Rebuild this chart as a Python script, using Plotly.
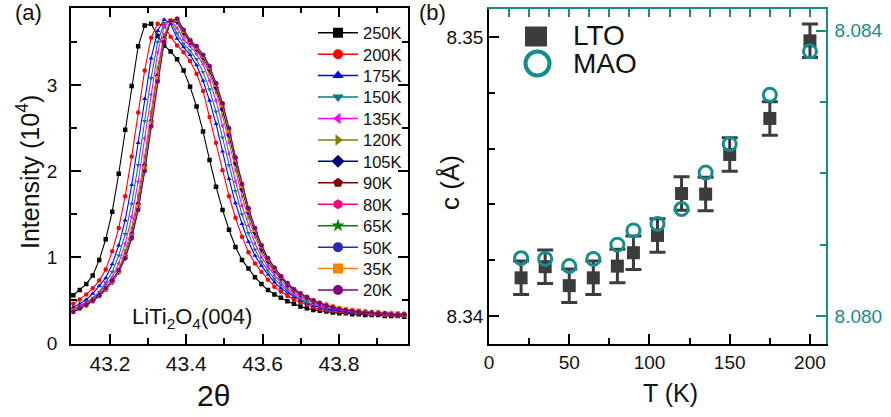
import plotly.graph_objects as go

# ---------------- panel (a): (004) reflection at different temperatures ----------------
two_theta = [43.104, 43.121, 43.138, 43.155, 43.172, 43.189, 43.206, 43.223, 43.240, 43.257,
             43.274, 43.291, 43.308, 43.325, 43.342, 43.359, 43.376, 43.393, 43.410, 43.427,
             43.444, 43.461, 43.478, 43.495, 43.512, 43.529, 43.546, 43.563, 43.580, 43.597,
             43.614, 43.631, 43.648, 43.665, 43.682, 43.699, 43.716, 43.733, 43.750, 43.767,
             43.784, 43.801, 43.818, 43.835, 43.852, 43.869, 43.886, 43.903, 43.920, 43.937,
             43.954, 43.971]

I_250K = [0.56, 0.62, 0.69, 0.79, 0.97, 1.21, 1.53, 1.97, 2.48, 2.99, 3.45, 3.69, 3.71, 3.57, 3.46,
          3.39, 3.30, 3.17, 2.98, 2.75, 2.46, 2.13, 1.82, 1.55, 1.32, 1.12, 0.97, 0.87, 0.77, 0.69,
          0.62, 0.57, 0.53, 0.49, 0.46, 0.43, 0.41, 0.39, 0.38, 0.37, 0.36, 0.35, 0.35, 0.34, 0.34,
          0.33, 0.33, 0.33, 0.32, 0.32, 0.32, 0.31]
I_200K = [0.46, 0.51, 0.57, 0.64, 0.73, 0.86, 1.07, 1.34, 1.71, 2.17, 2.68, 3.17, 3.55, 3.71, 3.69,
          3.56, 3.46, 3.38, 3.28, 3.13, 2.93, 2.63, 2.33, 2.01, 1.71, 1.46, 1.24, 1.06, 0.93, 0.83,
          0.74, 0.66, 0.60, 0.55, 0.51, 0.48, 0.45, 0.42, 0.40, 0.39, 0.38, 0.37, 0.36, 0.36, 0.35,
          0.35, 0.34, 0.34, 0.33, 0.33, 0.32, 0.32]
I_175K = [0.42, 0.46, 0.51, 0.58, 0.67, 0.76, 0.92, 1.14, 1.43, 1.84, 2.33, 2.84, 3.31, 3.63, 3.76,
          3.71, 3.54, 3.44, 3.35, 3.23, 3.05, 2.82, 2.55, 2.23, 1.91, 1.63, 1.39, 1.18, 1.02, 0.90,
          0.80, 0.71, 0.64, 0.59, 0.54, 0.50, 0.47, 0.44, 0.42, 0.40, 0.39, 0.38, 0.37, 0.36, 0.36,
          0.35, 0.35, 0.34, 0.34, 0.33, 0.33, 0.33]
I_150K = [0.40, 0.44, 0.48, 0.53, 0.60, 0.71, 0.83, 1.02, 1.27, 1.62, 2.07, 2.58, 3.08, 3.50, 3.72,
          3.74, 3.60, 3.48, 3.40, 3.30, 3.15, 2.95, 2.69, 2.39, 2.07, 1.77, 1.50, 1.28, 1.09, 0.95,
          0.85, 0.75, 0.68, 0.61, 0.56, 0.52, 0.48, 0.45, 0.43, 0.41, 0.40, 0.39, 0.38, 0.37, 0.36,
          0.36, 0.35, 0.35, 0.34, 0.34, 0.33, 0.33]
I_135K = [0.39, 0.43, 0.47, 0.52, 0.58, 0.68, 0.77, 0.93, 1.16, 1.47, 1.88, 2.38, 2.89, 3.38, 3.68,
          3.75, 3.66, 3.53, 3.45, 3.36, 3.24, 3.05, 2.82, 2.53, 2.20, 1.88, 1.60, 1.37, 1.16, 1.00,
          0.89, 0.79, 0.71, 0.63, 0.58, 0.54, 0.50, 0.47, 0.44, 0.42, 0.41, 0.40, 0.39, 0.38, 0.37,
          0.36, 0.36, 0.35, 0.35, 0.34, 0.34, 0.34]
I_120K = [0.38, 0.42, 0.46, 0.51, 0.56, 0.65, 0.73, 0.86, 1.07, 1.34, 1.71, 2.17, 2.68, 3.20, 3.58,
          3.74, 3.72, 3.58, 3.48, 3.40, 3.29, 3.13, 2.92, 2.65, 2.34, 2.01, 1.71, 1.46, 1.24, 1.06,
          0.93, 0.83, 0.74, 0.66, 0.60, 0.55, 0.51, 0.48, 0.45, 0.43, 0.41, 0.40, 0.39, 0.38, 0.37,
          0.37, 0.36, 0.36, 0.35, 0.35, 0.34, 0.34]
I_105K = [0.37, 0.41, 0.45, 0.50, 0.56, 0.63, 0.71, 0.83, 1.02, 1.27, 1.62, 2.07, 2.58, 3.11, 3.54,
          3.74, 3.74, 3.61, 3.50, 3.42, 3.32, 3.18, 2.97, 2.72, 2.42, 2.09, 1.79, 1.52, 1.29, 1.10,
          0.96, 0.85, 0.76, 0.68, 0.62, 0.57, 0.53, 0.49, 0.46, 0.44, 0.42, 0.40, 0.39, 0.38, 0.37,
          0.37, 0.36, 0.36, 0.35, 0.35, 0.34, 0.34]
I_90K = [0.37, 0.41, 0.45, 0.50, 0.56, 0.63, 0.72, 0.84, 1.01, 1.25, 1.60, 2.05, 2.56, 3.09, 3.53,
         3.75, 3.76, 3.62, 3.51, 3.43, 3.33, 3.19, 2.99, 2.75, 2.45, 2.12, 1.81, 1.54, 1.31, 1.12,
         0.97, 0.86, 0.77, 0.69, 0.62, 0.57, 0.53, 0.50, 0.47, 0.44, 0.42, 0.40, 0.39, 0.38, 0.37,
         0.36, 0.36, 0.35, 0.35, 0.35, 0.34, 0.34]
I_80K = [0.38, 0.41, 0.45, 0.50, 0.55, 0.63, 0.72, 0.84, 1.00, 1.24, 1.58, 2.03, 2.55, 3.07, 3.52,
         3.75, 3.76, 3.63, 3.51, 3.44, 3.34, 3.20, 3.00, 2.77, 2.47, 2.14, 1.83, 1.55, 1.32, 1.13,
         0.98, 0.87, 0.77, 0.69, 0.63, 0.58, 0.54, 0.50, 0.47, 0.44, 0.42, 0.41, 0.39, 0.38, 0.37,
         0.37, 0.36, 0.36, 0.35, 0.35, 0.34, 0.34]
I_65K = [0.37, 0.40, 0.45, 0.49, 0.55, 0.63, 0.72, 0.84, 1.00, 1.23, 1.57, 2.02, 2.54, 3.06, 3.51,
         3.74, 3.77, 3.64, 3.52, 3.44, 3.35, 3.21, 3.01, 2.78, 2.48, 2.15, 1.84, 1.56, 1.33, 1.13,
         0.98, 0.87, 0.78, 0.70, 0.63, 0.58, 0.54, 0.50, 0.47, 0.45, 0.42, 0.41, 0.39, 0.38, 0.37,
         0.37, 0.36, 0.35, 0.35, 0.35, 0.34, 0.34]
I_50K = [0.37, 0.41, 0.44, 0.49, 0.55, 0.62, 0.72, 0.83, 0.99, 1.22, 1.56, 2.01, 2.53, 3.05, 3.50,
         3.75, 3.76, 3.64, 3.52, 3.45, 3.35, 3.21, 3.02, 2.78, 2.49, 2.16, 1.85, 1.57, 1.34, 1.14,
         0.99, 0.88, 0.78, 0.70, 0.63, 0.58, 0.54, 0.50, 0.47, 0.45, 0.43, 0.41, 0.39, 0.38, 0.37,
         0.37, 0.36, 0.36, 0.35, 0.35, 0.34, 0.34]
I_35K = [0.38, 0.41, 0.45, 0.50, 0.56, 0.63, 0.72, 0.84, 1.01, 1.25, 1.59, 2.04, 2.56, 3.08, 3.52,
         3.75, 3.76, 3.63, 3.52, 3.44, 3.34, 3.21, 3.01, 2.77, 2.47, 2.14, 1.83, 1.55, 1.32, 1.13,
         0.98, 0.87, 0.78, 0.70, 0.63, 0.58, 0.54, 0.50, 0.47, 0.45, 0.43, 0.41, 0.40, 0.39, 0.38,
         0.37, 0.36, 0.36, 0.35, 0.35, 0.35, 0.34]
I_20K = [0.37, 0.41, 0.45, 0.50, 0.56, 0.64, 0.73, 0.85, 0.99, 1.23, 1.55, 2.00, 2.52, 3.04, 3.50,
         3.74, 3.77, 3.64, 3.52, 3.45, 3.35, 3.22, 3.02, 2.79, 2.50, 2.16, 1.85, 1.57, 1.34, 1.14,
         0.99, 0.88, 0.78, 0.70, 0.63, 0.58, 0.54, 0.50, 0.47, 0.44, 0.42, 0.40, 0.39, 0.38, 0.37,
         0.36, 0.36, 0.35, 0.35, 0.34, 0.34, 0.34]

scan_labels = ["250K", "200K", "175K", "150K", "135K", "120K", "105K",
               "90K", "80K", "65K", "50K", "35K", "20K"]
scan_values = [I_250K, I_200K, I_175K, I_150K, I_135K, I_120K, I_105K,
               I_90K, I_80K, I_65K, I_50K, I_35K, I_20K]
scan_colors = ["#000000", "#FF0000", "#0000FF", "#008080", "#FF00FF", "#808000", "#000080",
               "#800000", "#FF0080", "#008000", "#2B2BB8", "#FF8000", "#800080"]
scan_symbols = ["square", "circle", "triangle-up", "triangle-down", "triangle-left",
                "triangle-right", "diamond", "pentagon", "hexagon", "star", "circle",
                "square", "circle"]

# ---------------- panel (b): c-axis lattice parameter ----------------
T_K = [20, 35, 50, 65, 80, 90, 105, 120, 135, 150, 175, 200]
c_LTO = [8.34137, 8.34177, 8.34109, 8.34137, 8.34179, 8.34227, 8.34289, 8.34439, 8.34437,
         8.34579, 8.34708, 8.34986]
c_LTO_err = [0.0006, 0.0006, 0.0006, 0.0006, 0.0006, 0.0006, 0.0006, 0.0006, 0.0006,
             0.0006, 0.0006, 0.0006]
c_MAO = [8.08081, 8.08080, 8.08070, 8.08080, 8.08100, 8.08120, 8.08129, 8.08150, 8.08201,
         8.08241, 8.08310, 8.08371]

W, H = 891, 417
FONT = "Liberation Sans, Arial, sans-serif"
TEAL = "#168C8C"
GREY = "#3C3C3C"


def px_x(p):
    return p / W


def px_y(p):
    return 1 - p / H


fig = go.Figure()

# diffraction scans
for lab, vals, col, sym in zip(scan_labels, scan_values, scan_colors, scan_symbols):
    fig.add_trace(go.Scatter(
        x=two_theta, y=vals, mode="lines+markers", name=lab, showlegend=False,
        line=dict(color=col, width=1.1),
        marker=dict(symbol=sym, size=4.5, color=col, line=dict(width=0)),
        xaxis="x", yaxis="y"))

# one small legend per scan, stacked down the right side of panel (a)
legend_layouts = {}
for k, (lab, col, sym) in enumerate(zip(scan_labels, scan_colors, scan_symbols)):
    lname = "legend" if k == 0 else f"legend{k + 1}"
    fig.add_trace(go.Scatter(
        x=[None], y=[None], mode="lines+markers", name=lab, legend=lname,
        line=dict(color=col, width=1.5),
        marker=dict(symbol=sym, size=10, color=col, line=dict(width=0)),
        xaxis="x", yaxis="y"))
    legend_layouts[lname] = dict(
        x=px_x(313), y=px_y(33 + 21.44 * k), xanchor="left", yanchor="middle",
        bgcolor="rgba(0,0,0,0)", borderwidth=0, itemwidth=40,
        font=dict(family=FONT, size=16.5, color="#111111"))

# lattice parameter of the film (left axis) and substrate (right axis)
fig.add_trace(go.Scatter(
    x=T_K, y=c_LTO, mode="markers", name="LTO", showlegend=False,
    marker=dict(symbol="square", size=13, color=GREY),
    error_y=dict(type="data", array=c_LTO_err, color=GREY, thickness=3, width=8),
    xaxis="x2", yaxis="y2"))
fig.add_trace(go.Scatter(
    x=T_K, y=c_MAO, mode="markers", name="MAO", showlegend=False,
    marker=dict(symbol="circle-open", size=13, color=TEAL, line=dict(width=3, color=TEAL)),
    xaxis="x2", yaxis="y3"))
# keeps the teal top axis attached to panel (b)
fig.add_trace(go.Scatter(x=[None], y=[None], showlegend=False, hoverinfo="skip",
                         xaxis="x3", yaxis="y2"))

tickfont = dict(family=FONT, size=19, color="#111111")
tickfont_a = dict(family=FONT, size=21, color="#111111")
axis_common = dict(showgrid=False, zeroline=False, showline=True, linewidth=1.6,
                   ticks="inside", ticklen=10, tickwidth=1.5, automargin=False)

fig.update_layout(
    width=W, height=H, margin=dict(l=0, r=0, t=0, b=0, autoexpand=False),
    paper_bgcolor="white", plot_bgcolor="white",
    font=dict(family=FONT, color="#111111"),
    xaxis=dict(domain=[px_x(71), px_x(408)], range=[43.098, 43.981], anchor="y",
               linecolor="black", tickcolor="black", mirror="ticks",
               tick0=43.2, dtick=0.2, tickformat=".1f", tickfont=tickfont_a,
               minor=dict(ticks="inside", ticklen=6, dtick=0.1, tick0=43.1,
                          tickcolor="black", tickwidth=1.5),
               **axis_common),
    yaxis=dict(domain=[px_y(343.5), px_y(7.5)], range=[0, 3.9], anchor="x",
               linecolor="black", tickcolor="black", mirror="ticks",
               tick0=0, dtick=1, tickfont=tickfont, ticklabelstandoff=8,
               minor=dict(ticks="inside", ticklen=6, dtick=0.5, tick0=0,
                          tickcolor="black", tickwidth=1.5),
               **axis_common),
    xaxis2=dict(domain=[px_x(489), px_x(826)], range=[0, 210], anchor="y2",
                linecolor="black", tickcolor="black",
                tick0=0, dtick=50, tickfont=tickfont,
                minor=dict(ticks="inside", ticklen=6, dtick=25, tick0=0,
                           tickcolor="black", tickwidth=1.5),
                **axis_common),
    xaxis3=dict(overlaying="x2", side="top", anchor="y2", range=[0, 210],
                linecolor=TEAL, tickcolor=TEAL, showticklabels=False,
                tick0=0, dtick=12.5, showgrid=False, zeroline=False, showline=True,
                linewidth=1.6, ticks="inside", ticklen=8, tickwidth=1.5, automargin=False),
    yaxis2=dict(domain=[px_y(344), px_y(9)], range=[8.339, 8.351], anchor="x2",
                linecolor="black", tickcolor="black",
                tick0=8.34, dtick=0.01, tickformat=".2f", tickfont=tickfont,
                minor=dict(ticks="inside", ticklen=6, dtick=0.002, tick0=8.34,
                           tickcolor="black", tickwidth=1.5),
                **axis_common),
    yaxis3=dict(overlaying="y2", side="right", anchor="x2",
                range=[8.079607, 8.084304],
                linecolor=TEAL, tickcolor=TEAL,
                tick0=8.080, dtick=0.004, tickformat=".3f", ticklabelstandoff=3,
                tickfont=dict(family=FONT, size=19, color=TEAL),
                minor=dict(ticks="inside", ticklen=6, dtick=0.001, tick0=8.080,
                           tickcolor=TEAL, tickwidth=1.5),
                **axis_common),
    **legend_layouts,
)

# text labels
ann = [
    dict(text="(a)", x=px_x(28), y=px_y(12), size=22),
    dict(text="(b)", x=px_x(432), y=px_y(12), size=22),
    dict(text="Intensity (10<sup>4</sup>)", x=px_x(28), y=px_y(172), size=25, angle=-90),
    dict(text="2θ", x=px_x(213), y=px_y(395), size=30),
    dict(text="LiTi<sub>2</sub>O<sub>4</sub>(004)", x=px_x(191.5), y=px_y(318), size=22),
    dict(text="T (K)", x=px_x(670), y=px_y(393), size=25),
    dict(text="c (Å)", x=px_x(450), y=px_y(183), size=26, angle=-90),
]
for a in ann:
    fig.add_annotation(text=a["text"], x=a["x"], y=a["y"], xref="paper", yref="paper",
                       xanchor="center", yanchor="middle", showarrow=False,
                       textangle=a.get("angle", 0),
                       font=dict(family=FONT, size=a["size"], color="#111111"))

# key for panel (b)
fig.add_shape(type="rect", xref="paper", yref="paper",
              x0=px_x(525), x1=px_x(547), y0=px_y(46.5), y1=px_y(26.5),
              fillcolor=GREY, line=dict(width=0))
fig.add_shape(type="circle", xref="paper", yref="paper",
              x0=px_x(525.5), x1=px_x(549.5), y0=px_y(75.5), y1=px_y(51.5),
              fillcolor="rgba(0,0,0,0)", line=dict(color=TEAL, width=4))
for txt, yc in (("LTO", 35), ("MAO", 63.5)):
    fig.add_annotation(text=txt, x=px_x(571), y=px_y(yc), xref="paper", yref="paper",
                       xanchor="left", yanchor="middle", showarrow=False,
                       font=dict(family=FONT, size=28, color="#111111"))

fig.write_html("out.html")
